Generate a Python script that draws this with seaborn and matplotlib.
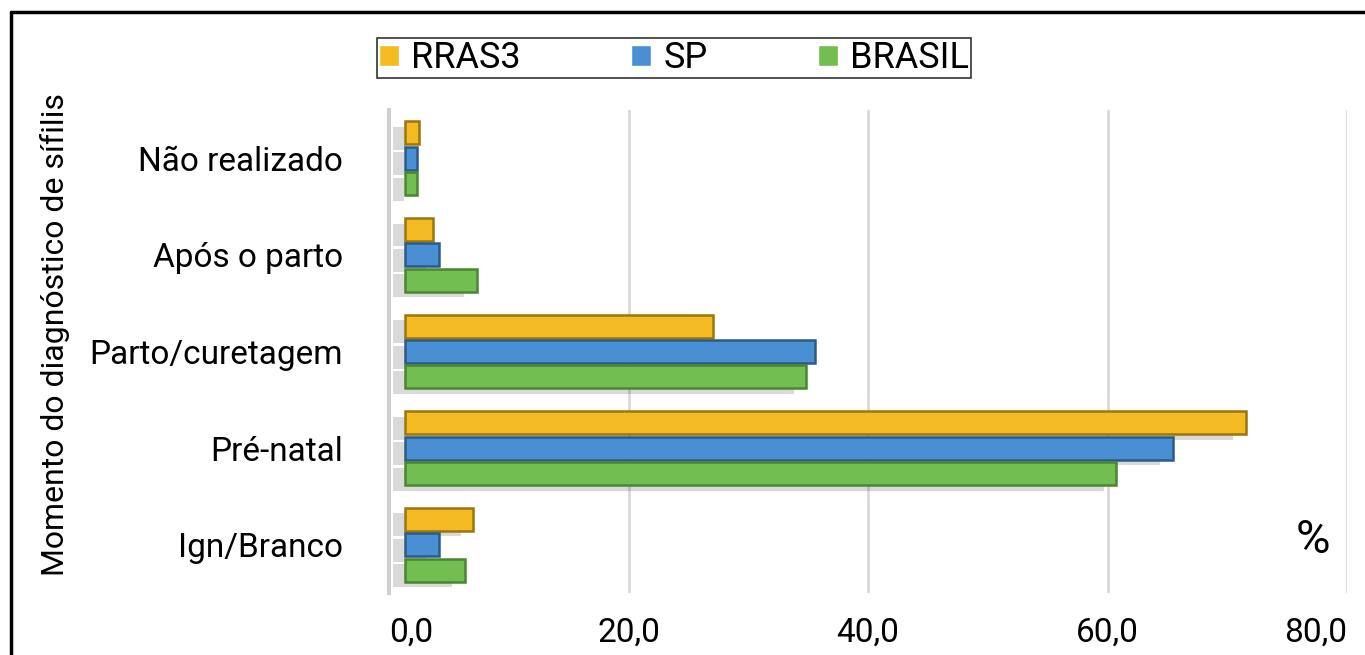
import pandas as pd
import matplotlib.pyplot as plt
import matplotlib.patheffects as pe
from matplotlib.transforms import offset_copy
from matplotlib.lines import Line2D
import seaborn as sns

# === Dados (%) ===
momentos = ["Não realizado", "Após o parto", "Parto/curetagem", "Pré-natal", "Ign/Branco"]
grupos = ["RRAS3", "SP", "BRASIL"]
rras3 = [1.2, 2.3, 25.7, 70.2, 5.7]
sp = [1.0, 2.8, 34.2, 64.1, 2.8]
brasil = [1.0, 6.0, 33.5, 59.4, 5.0]
x_ticks = [0, 20, 40, 60, 80]
x_tick_labels = ["0,0", "20,0", "40,0", "60,0", "80,0"]

df = pd.DataFrame({
    "Momento": momentos * 3,
    "Grupo": [g for g in grupos for _ in momentos],
    "Pct": rras3 + sp + brasil,
})

cores = {"RRAS3": "#F3BA22", "SP": "#4A8ED3", "BRASIL": "#72BE50"}
bordas = {"RRAS3": "#9A760F", "SP": "#2C5B88", "BRASIL": "#4B8532"}

sns.set_style("white")
plt.rcParams["font.family"] = ["Roboto", "DejaVu Sans"]
plt.rcParams["text.color"] = "black"
plt.rcParams["xtick.color"] = "black"
plt.rcParams["ytick.color"] = "black"

fig = plt.figure(figsize=(13.65, 6.55), dpi=100)
ax = fig.add_axes([389 / 1365, 62 / 655, (1347 - 389) / 1365, 483 / 655])

sns.barplot(data=df, y="Momento", x="Pct", hue="Grupo", hue_order=grupos,
            order=momentos, palette=cores, saturation=1, orient="h",
            width=0.79, gap=0.1, ax=ax, zorder=3)

# bars pushed right a bit, like the 3D depth in the original
shift = offset_copy(ax.transData, fig=fig, x=16, y=0, units="dots")
sombra = [pe.SimplePatchShadow(offset=(-9, -4), shadow_rgbFace="black", alpha=0.15),
          pe.Normal()]
for cont, g in zip(ax.containers, grupos):
    for bar in cont:
        bar.set_transform(shift)
        bar.set_edgecolor(bordas[g])
        bar.set_linewidth(1.8)
        bar.set_path_effects(sombra)

ax.set_xlim(0, 80)
ax.set_xticks(x_ticks)
ax.set_xticklabels(x_tick_labels, fontsize=24)
labs = ax.get_xticklabels()
labs[0].set_ha("left")
labs[-1].set_ha("right")
ax.tick_params(axis="x", length=0, pad=17)
ax.tick_params(axis="y", length=0, pad=33, labelsize=24)
ax.set_xlabel("")
ax.set_ylabel("")

ax.grid(True, axis="x", color="#d9d9d9", linewidth=2, zorder=0)
ax.grid(False, axis="y")
for s in ["top", "right", "bottom"]:
    ax.spines[s].set_visible(False)
ax.spines["left"].set_color("#cfcfcf")
ax.spines["left"].set_linewidth(3)

# legend on top, boxed
handles, labels = ax.get_legend_handles_labels()
ax.legend_.remove()
leg = fig.legend(handles, labels, loc="lower left", ncol=3, mode="expand",
                 bbox_to_anchor=(377 / 1365, 1 - 78 / 655, 594 / 1365, 42 / 655),
                 fontsize=26, frameon=True, fancybox=False, edgecolor="black",
                 handlelength=0.55, handleheight=0.55, handletextpad=0.35,
                 borderpad=0.05, borderaxespad=0)
leg.get_frame().set_linewidth(1.2)

fig.text(55 / 1365, 1 - 334 / 655, "Momento do diagnóstico de sífilis",
         rotation=90, ha="center", va="center", fontsize=23)
fig.text(1313 / 1365, 1 - 540 / 655, "%", ha="center", va="center", fontsize=34)

# outer frame (left and top only visible in the original crop)
fig.add_artist(Line2D([11 / 1365, 11 / 1365], [0, 1 - 12 / 655], color="black",
                      linewidth=2.5, transform=fig.transFigure))
fig.add_artist(Line2D([11 / 1365, 1], [1 - 12 / 655, 1 - 12 / 655], color="black",
                      linewidth=2.5, transform=fig.transFigure))

fig.savefig("out.png", dpi=100)
